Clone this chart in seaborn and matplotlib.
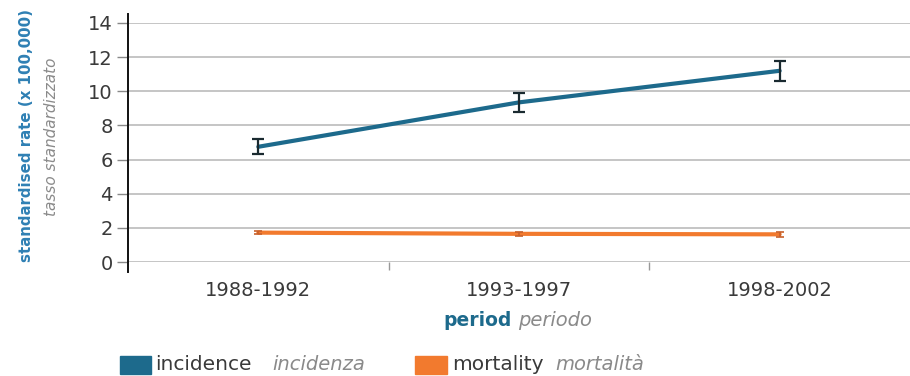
import matplotlib
matplotlib.use("Agg")
import matplotlib.pyplot as plt
import seaborn as sns
import pandas as pd
from matplotlib.patches import Rectangle

periods = ["1988-1992", "1993-1997", "1998-2002"]
incidence = [6.75, 9.35, 11.2]
incidence_err = [0.45, 0.55, 0.6]
mortality = [1.72, 1.65, 1.62]
mortality_err = [0.1, 0.1, 0.15]
yticks = [0, 2, 4, 6, 8, 10, 12, 14]

sns.set_theme(style="white")
plt.rcParams["font.family"] = ["DejaVu Sans"]

BLUE = "#1d6a8c"
ORANGE = "#f27a2e"
LBLUE = "#2f80b4"
GRAY = "#8a8a8a"
DARK = "#3a3a3a"

fig = plt.figure(figsize=(9.10, 3.76), dpi=100)
ax = fig.add_axes([128/910, 1-262/376, 1-128/910, (262-23)/376])

df = pd.DataFrame({"period": periods * 2,
                   "rate": incidence + mortality,
                   "series": ["incidence"] * 3 + ["mortality"] * 3})
sns.lineplot(data=df, x="period", y="rate", hue="series",
             palette={"incidence": BLUE, "mortality": ORANGE},
             linewidth=3, legend=False, ax=ax, sort=False)
ax.errorbar(periods, incidence, yerr=incidence_err, fmt="none",
            ecolor="#1a2a30", elinewidth=1.6, capsize=4, capthick=1.6, zorder=5)
ax.errorbar(periods, mortality, yerr=mortality_err, fmt="none",
            ecolor="#c8602a", elinewidth=1.2, capsize=3, capthick=1.2, zorder=5)

ax.set_xlim(-0.5, 2.5)
ax.set_ylim(0, 14)
ax.set_yticks(yticks)
ax.set_yticklabels([str(v) for v in yticks], color=DARK, fontsize=14)
ax.yaxis.grid(True, color="#bbbbbb", linewidth=1.2)
ax.xaxis.grid(False)
for s in ["top", "right", "bottom"]:
    ax.spines[s].set_visible(False)
ax.spines["left"].set_color("#111111")
ax.spines["left"].set_linewidth(1.4)
ax.spines["left"].set_bounds(-0.6, 14.5)
ax.tick_params(axis="y", left=True, length=8, width=1, color="#888888", pad=3)
ax.set_xticks([0, 1, 2])
ax.set_xticklabels(periods, color=DARK, fontsize=14)
ax.set_xticks([0.5, 1.5], minor=True)
ax.tick_params(axis="x", which="major", length=0, pad=14)
ax.tick_params(axis="x", which="minor", bottom=True, length=6, color="#999999")
ax.set_xlabel("")
ax.set_ylabel("")

# y label, two lines
fig.text(27/910, 1-136/376, "standardised rate (x 100,000)", rotation=90,
         ha="center", va="center", color=LBLUE, fontsize=10.8, fontweight="bold")
fig.text(52/910, 1-137/376, "tasso standardizzato", rotation=90,
         ha="center", va="center", color=GRAY, fontsize=11, style="italic")

# x label
fig.text(512/910, 1-321/376, "period", ha="right", va="center",
         color=BLUE, fontsize=13.5, fontweight="bold")
fig.text(518/910, 1-321/376, "periodo", ha="left", va="center",
         color=GRAY, fontsize=14, style="italic")

# legend
fig.patches.append(Rectangle((120/910, 1-374/376), 31/910, 18/376,
                             transform=fig.transFigure, color=BLUE))
fig.text(155/910, 1-365/376, "incidence", ha="left", va="center",
         color=DARK, fontsize=14.5)
fig.text(272/910, 1-365/376, "incidenza", ha="left", va="center",
         color=GRAY, fontsize=14, style="italic")
fig.patches.append(Rectangle((415/910, 1-374/376), 32/910, 18/376,
                             transform=fig.transFigure, color=ORANGE))
fig.text(452/910, 1-365/376, "mortality", ha="left", va="center",
         color=DARK, fontsize=14.5)
fig.text(555/910, 1-365/376, "mortalità", ha="left", va="center",
         color=GRAY, fontsize=14, style="italic")

fig.savefig("out.png", dpi=100)
